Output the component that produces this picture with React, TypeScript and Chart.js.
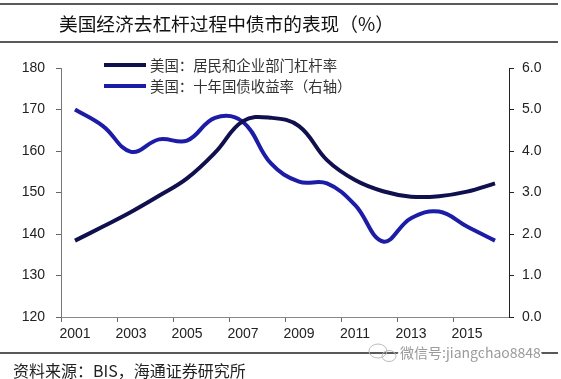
import React, { useEffect, useRef } from 'react';
import { Chart, registerables } from 'chart.js';

Chart.register(...registerables);

const title = '美国经济去杠杆过程中债市的表现（%）';
const source = '资料来源：BIS，海通证券研究所';
const watermark = '微信号:jiangchao8848';
const seriesNames = ['美国：居民和企业部门杠杆率', '美国：十年国债收益率（右轴）'];
const years = ['2001', '2002', '2003', '2004', '2005', '2006', '2007', '2008', '2009', '2010', '2011', '2012', '2013', '2014', '2015', '2016'];
const leverage = [138.4, 141.8, 145.3, 149.2, 153.4, 159.6, 167.2, 168.0, 166.0, 157.8, 153.0, 150.3, 149.0, 149.1, 150.2, 152.2];
const yield10 = [5.0, 4.6, 3.98, 4.28, 4.25, 4.8, 4.7, 3.7, 3.26, 3.22, 2.7, 1.82, 2.38, 2.54, 2.18, 1.84];
const leftTicks = [120, 130, 140, 150, 160, 170, 180];
const rightTicks = [0, 1, 2, 3, 4, 5, 6];

const DARK = '#10104e';
const BLUE = '#1c1ca6';
const CJK = '"Noto Sans CJK SC", "Noto Sans", sans-serif';
const LATIN = '"Liberation Sans", Arial, sans-serif';

const decor = {
  id: 'decor',
  afterDraw(chart: any) {
    const ctx = chart.ctx;
    const W = chart.width;
    ctx.save();
    // rules
    ctx.strokeStyle = '#222';
    ctx.lineWidth = 1.5;
    [4, 42, 353].forEach((y) => {
      ctx.beginPath();
      ctx.moveTo(0, y);
      ctx.lineTo(W - 3, y);
      ctx.stroke();
    });
    // title
    ctx.fillStyle = '#111';
    ctx.font = `18.7px ${CJK}`;
    ctx.textBaseline = 'middle';
    ctx.textAlign = 'left';
    ctx.fillText(title, 59, 24);
    // source
    ctx.fillStyle = '#222';
    ctx.font = `16px ${CJK}`;
    ctx.fillText(source, 13, 371);
    // watermark
    ctx.font = `14px ${CJK}`;
    ctx.lineWidth = 4;
    ctx.strokeStyle = '#fff';
    ctx.strokeText(watermark, 400, 353);
    ctx.fillStyle = '#9a9a9a';
    ctx.fillText(watermark, 400, 353);
    ctx.strokeStyle = '#bbb';
    ctx.lineWidth = 1;
    ctx.beginPath();
    ctx.ellipse(378, 351, 9, 7, 0, 0, Math.PI * 2);
    ctx.stroke();
    ctx.beginPath();
    ctx.ellipse(389, 356, 7, 5.5, 0, 0, Math.PI * 2);
    ctx.stroke();
    // legend
    const colors = [DARK, BLUE];
    const ys = [65, 86];
    ctx.font = `14.4px ${CJK}`;
    seriesNames.forEach((name, i) => {
      ctx.strokeStyle = colors[i];
      ctx.lineWidth = 4;
      ctx.beginPath();
      ctx.moveTo(104, ys[i]);
      ctx.lineTo(146, ys[i]);
      ctx.stroke();
      ctx.fillStyle = '#333';
      ctx.fillText(name, 150, ys[i] + 1);
    });
    ctx.restore();
  },
};

export default function App() {
  const ref = useRef<HTMLCanvasElement>(null);
  useEffect(() => {
    const chart = new Chart(ref.current as HTMLCanvasElement, {
      type: 'line',
      data: {
        labels: years,
        datasets: [
          {
            label: seriesNames[0],
            data: leverage,
            yAxisID: 'y',
            borderColor: DARK,
            borderWidth: 4,
            pointRadius: 0,
            tension: 0.4,
            fill: false,
          },
          {
            label: seriesNames[1],
            data: yield10,
            yAxisID: 'y1',
            borderColor: BLUE,
            borderWidth: 4,
            pointRadius: 0,
            tension: 0.4,
            fill: false,
          },
        ],
      },
      options: {
        animation: false,
        responsive: false,
        devicePixelRatio: 1,
        layout: { padding: { top: 68, left: 0, right: 0, bottom: 0 } },
        plugins: { legend: { display: false }, tooltip: { enabled: false }, title: { display: false } },
        scales: {
          x: {
            type: 'category',
            offset: true,
            grid: {
              offset: true,
              drawOnChartArea: false,
              tickLength: 5,
              tickColor: (c: any) => (c.index % 2 === 0 ? '#666' : 'rgba(0,0,0,0)'),
            },
            border: { color: '#888', width: 1 },
            ticks: {
              autoSkip: false,
              maxRotation: 0,
              padding: 4,
              color: '#222',
              font: { family: LATIN, size: 14 },
              callback: (_v: any, i: number) => (i % 2 === 0 ? years[i] : ''),
            },
            afterFit: (s: any) => {
              s.height = 62;
            },
          },
          y: {
            position: 'left',
            min: leftTicks[0],
            max: leftTicks[leftTicks.length - 1],
            afterBuildTicks: (s: any) => {
              s.ticks = leftTicks.map((v) => ({ value: v }));
            },
            grid: { drawOnChartArea: false, tickLength: 5, tickColor: '#666' },
            border: { color: '#777', width: 1 },
            ticks: {
              padding: 11,
              color: '#222',
              font: { family: LATIN, size: 14 },
              callback: (v: any) => String(v),
            },
            afterFit: (s: any) => {
              s.width = 61;
            },
          },
          y1: {
            position: 'right',
            min: rightTicks[0],
            max: rightTicks[rightTicks.length - 1],
            afterBuildTicks: (s: any) => {
              s.ticks = rightTicks.map((v) => ({ value: v }));
            },
            grid: { drawOnChartArea: false, tickLength: 5, tickColor: '#222' },
            border: { color: '#222', width: 1 },
            ticks: {
              padding: 8,
              color: '#222',
              font: { family: LATIN, size: 14 },
              callback: (v: any) => Number(v).toFixed(1),
            },
            afterFit: (s: any) => {
              s.width = 52;
            },
          },
        },
      },
      plugins: [decor],
    });
    return () => chart.destroy();
  }, []);
  return (
    <div style={{ position: 'absolute', left: 0, top: 0, width: 561, height: 379, background: '#fff' }}>
      <canvas ref={ref} width={561} height={379} style={{ display: 'block', width: 561, height: 379 }} />
    </div>
  );
}
